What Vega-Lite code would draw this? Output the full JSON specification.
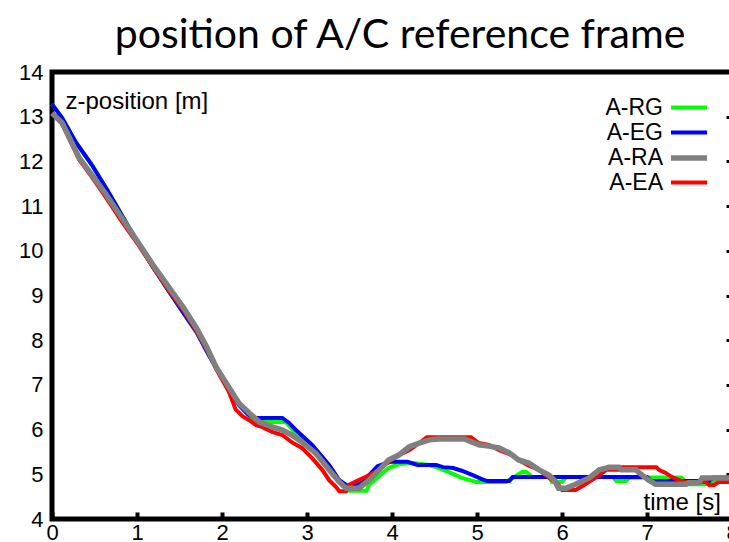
{
  "$schema": "https://vega.github.io/schema/vega-lite/v6.json",
  "width": 680,
  "height": 447,
  "autosize": {"type": "none"},
  "padding": {"left": 52, "top": 72, "right": 0, "bottom": 23},
  "background": "white",
  "title": {"text": "position of A/C reference frame", "font": "Lato", "fontSize": 41, "fontWeight": "normal", "color": "black", "anchor": "middle", "baseline": "alphabetic", "offset": 14, "dy": 42, "dx": 8},
  "config": {
    "view": {"stroke": "black", "strokeWidth": 5},
    "axis": {"grid": false, "domain": false, "labelFont": "Liberation Sans", "labelFontSize": 22, "labelColor": "black", "labelFlush": false, "labelOverlap": false, "titleFont": "Liberation Sans", "titleFontSize": 24, "titleFontWeight": "normal", "titleColor": "black"}
  },
  "data": {"values": [
    {"series": "A-RG", "t": 0, "z": 13.28}, {"series": "A-RG", "t": 0.12, "z": 12.97}, {"series": "A-RG", "t": 0.28, "z": 12.43}, {"series": "A-RG", "t": 0.47, "z": 11.92}, {"series": "A-RG", "t": 0.65, "z": 11.36}, {"series": "A-RG", "t": 0.87, "z": 10.64}, {"series": "A-RG", "t": 1.02, "z": 10.15}, {"series": "A-RG", "t": 1.2, "z": 9.6}, {"series": "A-RG", "t": 1.38, "z": 9.08}, {"series": "A-RG", "t": 1.55, "z": 8.6}, {"series": "A-RG", "t": 1.7, "z": 8.18}, {"series": "A-RG", "t": 1.85, "z": 7.65}, {"series": "A-RG", "t": 2.0, "z": 7.15}, {"series": "A-RG", "t": 2.2, "z": 6.55}, {"series": "A-RG", "t": 2.3, "z": 6.35}, {"series": "A-RG", "t": 2.38, "z": 6.17}, {"series": "A-RG", "t": 2.75, "z": 6.17}, {"series": "A-RG", "t": 2.85, "z": 5.95}, {"series": "A-RG", "t": 3.02, "z": 5.61}, {"series": "A-RG", "t": 3.2, "z": 5.25}, {"series": "A-RG", "t": 3.35, "z": 4.9}, {"series": "A-RG", "t": 3.5, "z": 4.63}, {"series": "A-RG", "t": 3.7, "z": 4.63}, {"series": "A-RG", "t": 3.73, "z": 4.76}, {"series": "A-RG", "t": 3.85, "z": 4.96}, {"series": "A-RG", "t": 3.96, "z": 5.14}, {"series": "A-RG", "t": 4.08, "z": 5.23}, {"series": "A-RG", "t": 4.24, "z": 5.25}, {"series": "A-RG", "t": 4.44, "z": 5.21}, {"series": "A-RG", "t": 4.55, "z": 5.14}, {"series": "A-RG", "t": 4.67, "z": 5.05}, {"series": "A-RG", "t": 4.82, "z": 4.92}, {"series": "A-RG", "t": 4.99, "z": 4.83}, {"series": "A-RG", "t": 5.34, "z": 4.83}, {"series": "A-RG", "t": 5.44, "z": 4.94}, {"series": "A-RG", "t": 5.53, "z": 5.05}, {"series": "A-RG", "t": 5.58, "z": 5.05}, {"series": "A-RG", "t": 5.65, "z": 4.94}, {"series": "A-RG", "t": 5.85, "z": 4.94}, {"series": "A-RG", "t": 5.88, "z": 4.83}, {"series": "A-RG", "t": 6.0, "z": 4.83}, {"series": "A-RG", "t": 6.05, "z": 4.94}, {"series": "A-RG", "t": 6.6, "z": 4.94}, {"series": "A-RG", "t": 6.64, "z": 4.85}, {"series": "A-RG", "t": 6.75, "z": 4.85}, {"series": "A-RG", "t": 6.8, "z": 4.93}, {"series": "A-RG", "t": 7.4, "z": 4.93}, {"series": "A-RG", "t": 7.49, "z": 4.78}, {"series": "A-RG", "t": 7.69, "z": 4.78}, {"series": "A-RG", "t": 7.73, "z": 4.84}, {"series": "A-RG", "t": 7.88, "z": 4.84}, {"series": "A-RG", "t": 7.92, "z": 4.9}, {"series": "A-RG", "t": 8.0, "z": 4.9},

    {"series": "A-EG", "t": 0, "z": 13.28}, {"series": "A-EG", "t": 0.12, "z": 12.97}, {"series": "A-EG", "t": 0.28, "z": 12.43}, {"series": "A-EG", "t": 0.47, "z": 11.92}, {"series": "A-EG", "t": 0.65, "z": 11.36}, {"series": "A-EG", "t": 0.87, "z": 10.64}, {"series": "A-EG", "t": 1.02, "z": 10.15}, {"series": "A-EG", "t": 1.2, "z": 9.6}, {"series": "A-EG", "t": 1.38, "z": 9.08}, {"series": "A-EG", "t": 1.55, "z": 8.6}, {"series": "A-EG", "t": 1.7, "z": 8.18}, {"series": "A-EG", "t": 1.85, "z": 7.65}, {"series": "A-EG", "t": 2.0, "z": 7.15}, {"series": "A-EG", "t": 2.2, "z": 6.55}, {"series": "A-EG", "t": 2.3, "z": 6.35}, {"series": "A-EG", "t": 2.38, "z": 6.26}, {"series": "A-EG", "t": 2.71, "z": 6.26}, {"series": "A-EG", "t": 2.79, "z": 6.15}, {"series": "A-EG", "t": 2.87, "z": 5.99}, {"series": "A-EG", "t": 3.06, "z": 5.66}, {"series": "A-EG", "t": 3.26, "z": 5.21}, {"series": "A-EG", "t": 3.38, "z": 4.87}, {"series": "A-EG", "t": 3.47, "z": 4.75}, {"series": "A-EG", "t": 3.57, "z": 4.75}, {"series": "A-EG", "t": 3.65, "z": 4.85}, {"series": "A-EG", "t": 3.75, "z": 5.02}, {"series": "A-EG", "t": 3.83, "z": 5.18}, {"series": "A-EG", "t": 3.98, "z": 5.28}, {"series": "A-EG", "t": 4.18, "z": 5.28}, {"series": "A-EG", "t": 4.3, "z": 5.21}, {"series": "A-EG", "t": 4.52, "z": 5.21}, {"series": "A-EG", "t": 4.6, "z": 5.16}, {"series": "A-EG", "t": 4.72, "z": 5.14}, {"series": "A-EG", "t": 4.82, "z": 5.08}, {"series": "A-EG", "t": 4.95, "z": 4.98}, {"series": "A-EG", "t": 5.05, "z": 4.9}, {"series": "A-EG", "t": 5.12, "z": 4.85}, {"series": "A-EG", "t": 5.38, "z": 4.85}, {"series": "A-EG", "t": 5.42, "z": 4.94}, {"series": "A-EG", "t": 7.0, "z": 4.94}, {"series": "A-EG", "t": 7.05, "z": 4.85}, {"series": "A-EG", "t": 7.73, "z": 4.85}, {"series": "A-EG", "t": 7.78, "z": 4.93}, {"series": "A-EG", "t": 8.0, "z": 4.93},

    {"series": "A-EA", "t": 0, "z": 13.08}, {"series": "A-EA", "t": 0.12, "z": 12.84}, {"series": "A-EA", "t": 0.32, "z": 12.04}, {"series": "A-EA", "t": 0.47, "z": 11.65}, {"series": "A-EA", "t": 0.64, "z": 11.18}, {"series": "A-EA", "t": 0.82, "z": 10.66}, {"series": "A-EA", "t": 1.02, "z": 10.12}, {"series": "A-EA", "t": 1.2, "z": 9.6}, {"series": "A-EA", "t": 1.38, "z": 9.1}, {"series": "A-EA", "t": 1.55, "z": 8.66}, {"series": "A-EA", "t": 1.7, "z": 8.2}, {"series": "A-EA", "t": 1.82, "z": 7.8}, {"series": "A-EA", "t": 1.93, "z": 7.36}, {"series": "A-EA", "t": 2.08, "z": 6.85}, {"series": "A-EA", "t": 2.16, "z": 6.45}, {"series": "A-EA", "t": 2.24, "z": 6.3}, {"series": "A-EA", "t": 2.32, "z": 6.21}, {"series": "A-EA", "t": 2.4, "z": 6.1}, {"series": "A-EA", "t": 2.47, "z": 6.06}, {"series": "A-EA", "t": 2.59, "z": 5.95}, {"series": "A-EA", "t": 2.71, "z": 5.88}, {"series": "A-EA", "t": 2.82, "z": 5.72}, {"series": "A-EA", "t": 2.94, "z": 5.59}, {"series": "A-EA", "t": 3.06, "z": 5.36}, {"series": "A-EA", "t": 3.18, "z": 5.1}, {"series": "A-EA", "t": 3.26, "z": 4.87}, {"series": "A-EA", "t": 3.34, "z": 4.72}, {"series": "A-EA", "t": 3.38, "z": 4.62}, {"series": "A-EA", "t": 3.46, "z": 4.62}, {"series": "A-EA", "t": 3.49, "z": 4.76}, {"series": "A-EA", "t": 3.61, "z": 4.87}, {"series": "A-EA", "t": 3.73, "z": 4.98}, {"series": "A-EA", "t": 3.85, "z": 5.1}, {"series": "A-EA", "t": 3.96, "z": 5.28}, {"series": "A-EA", "t": 4.08, "z": 5.43}, {"series": "A-EA", "t": 4.2, "z": 5.54}, {"series": "A-EA", "t": 4.32, "z": 5.7}, {"series": "A-EA", "t": 4.41, "z": 5.83}, {"series": "A-EA", "t": 4.93, "z": 5.83}, {"series": "A-EA", "t": 5.02, "z": 5.7}, {"series": "A-EA", "t": 5.14, "z": 5.66}, {"series": "A-EA", "t": 5.26, "z": 5.54}, {"series": "A-EA", "t": 5.41, "z": 5.43}, {"series": "A-EA", "t": 5.49, "z": 5.32}, {"series": "A-EA", "t": 5.61, "z": 5.19}, {"series": "A-EA", "t": 5.73, "z": 5.1}, {"series": "A-EA", "t": 5.85, "z": 4.92}, {"series": "A-EA", "t": 5.94, "z": 4.81}, {"series": "A-EA", "t": 6.0, "z": 4.65}, {"series": "A-EA", "t": 6.16, "z": 4.65}, {"series": "A-EA", "t": 6.26, "z": 4.76}, {"series": "A-EA", "t": 6.44, "z": 4.98}, {"series": "A-EA", "t": 6.52, "z": 5.1}, {"series": "A-EA", "t": 6.67, "z": 5.1}, {"series": "A-EA", "t": 6.7, "z": 5.16}, {"series": "A-EA", "t": 7.11, "z": 5.16}, {"series": "A-EA", "t": 7.14, "z": 5.1}, {"series": "A-EA", "t": 7.22, "z": 5.03}, {"series": "A-EA", "t": 7.29, "z": 4.94}, {"series": "A-EA", "t": 7.38, "z": 4.87}, {"series": "A-EA", "t": 7.44, "z": 4.83}, {"series": "A-EA", "t": 7.69, "z": 4.83}, {"series": "A-EA", "t": 7.73, "z": 4.76}, {"series": "A-EA", "t": 7.79, "z": 4.76}, {"series": "A-EA", "t": 7.85, "z": 4.83}, {"series": "A-EA", "t": 8.0, "z": 4.83},

    {"series": "A-RA", "t": 0, "z": 13.08}, {"series": "A-RA", "t": 0.12, "z": 12.86}, {"series": "A-RA", "t": 0.32, "z": 12.08}, {"series": "A-RA", "t": 0.47, "z": 11.7}, {"series": "A-RA", "t": 0.64, "z": 11.25}, {"series": "A-RA", "t": 0.82, "z": 10.74}, {"series": "A-RA", "t": 1.02, "z": 10.17}, {"series": "A-RA", "t": 1.2, "z": 9.65}, {"series": "A-RA", "t": 1.38, "z": 9.17}, {"series": "A-RA", "t": 1.55, "z": 8.72}, {"series": "A-RA", "t": 1.7, "z": 8.27}, {"series": "A-RA", "t": 1.82, "z": 7.85}, {"series": "A-RA", "t": 1.93, "z": 7.4}, {"series": "A-RA", "t": 2.08, "z": 6.95}, {"series": "A-RA", "t": 2.2, "z": 6.59}, {"series": "A-RA", "t": 2.32, "z": 6.37}, {"series": "A-RA", "t": 2.44, "z": 6.17}, {"series": "A-RA", "t": 2.59, "z": 6.06}, {"series": "A-RA", "t": 2.71, "z": 5.99}, {"series": "A-RA", "t": 2.82, "z": 5.88}, {"series": "A-RA", "t": 2.94, "z": 5.72}, {"series": "A-RA", "t": 3.1, "z": 5.48}, {"series": "A-RA", "t": 3.26, "z": 5.1}, {"series": "A-RA", "t": 3.38, "z": 4.83}, {"series": "A-RA", "t": 3.46, "z": 4.69}, {"series": "A-RA", "t": 3.61, "z": 4.69}, {"series": "A-RA", "t": 3.73, "z": 4.87}, {"series": "A-RA", "t": 3.85, "z": 5.1}, {"series": "A-RA", "t": 3.96, "z": 5.32}, {"series": "A-RA", "t": 4.08, "z": 5.43}, {"series": "A-RA", "t": 4.2, "z": 5.61}, {"series": "A-RA", "t": 4.32, "z": 5.7}, {"series": "A-RA", "t": 4.44, "z": 5.77}, {"series": "A-RA", "t": 4.55, "z": 5.79}, {"series": "A-RA", "t": 4.85, "z": 5.79}, {"series": "A-RA", "t": 5.02, "z": 5.66}, {"series": "A-RA", "t": 5.14, "z": 5.63}, {"series": "A-RA", "t": 5.26, "z": 5.59}, {"series": "A-RA", "t": 5.38, "z": 5.48}, {"series": "A-RA", "t": 5.49, "z": 5.32}, {"series": "A-RA", "t": 5.61, "z": 5.25}, {"series": "A-RA", "t": 5.73, "z": 5.1}, {"series": "A-RA", "t": 5.85, "z": 4.98}, {"series": "A-RA", "t": 5.91, "z": 4.87}, {"series": "A-RA", "t": 5.96, "z": 4.69}, {"series": "A-RA", "t": 6.05, "z": 4.69}, {"series": "A-RA", "t": 6.14, "z": 4.76}, {"series": "A-RA", "t": 6.32, "z": 4.92}, {"series": "A-RA", "t": 6.44, "z": 5.1}, {"series": "A-RA", "t": 6.52, "z": 5.14}, {"series": "A-RA", "t": 6.55, "z": 5.16}, {"series": "A-RA", "t": 6.67, "z": 5.16}, {"series": "A-RA", "t": 6.7, "z": 5.1}, {"series": "A-RA", "t": 6.87, "z": 5.1}, {"series": "A-RA", "t": 6.91, "z": 5.03}, {"series": "A-RA", "t": 7.02, "z": 4.87}, {"series": "A-RA", "t": 7.1, "z": 4.78}, {"series": "A-RA", "t": 7.46, "z": 4.78}, {"series": "A-RA", "t": 7.49, "z": 4.81}, {"series": "A-RA", "t": 7.61, "z": 4.81}, {"series": "A-RA", "t": 7.65, "z": 4.92}, {"series": "A-RA", "t": 8.0, "z": 4.92}
  ]},
  "layer": [
    {
      "mark": {"type": "line", "interpolate": "linear", "strokeJoin": "miter"},
      "encoding": {
        "x": {"field": "t", "type": "quantitative", "scale": {"domain": [0, 8], "nice": false, "zero": false},
          "axis": {"orient": "bottom", "values": [0, 1, 2, 3, 4, 5, 6, 7, 8], "ticks": true, "tickSize": -7, "tickWidth": 4, "tickColor": "black", "labelPadding": 10, "labelBaseline": "top",
            "title": "time [s]", "titleX": 591, "titleY": -10, "titleAlign": "left", "titleBaseline": "alphabetic", "titleAngle": 0}},
        "y": {"field": "z", "type": "quantitative", "scale": {"domain": [4, 14], "nice": false, "zero": false},
          "axis": {"orient": "left", "values": [4, 5, 6, 7, 8, 9, 10, 11, 12, 13, 14], "ticks": false, "labelPadding": 9,
            "title": "z-position [m]", "titleAngle": 0, "titleX": 13, "titleY": 36, "titleAlign": "left", "titleBaseline": "alphabetic"}},
        "color": {"field": "series", "type": "nominal", "scale": {"domain": ["A-RG", "A-EG", "A-RA", "A-EA"], "range": ["#00ff00", "#0000ff", "#808080", "#ff0000"]},
          "legend": {"orient": "none", "legendX": 625, "legendY": 24, "title": null, "padding": 0, "symbolType": "M-2,0H2", "symbolSize": 324, "labelFont": "Liberation Sans", "labelFontSize": 23, "labelColor": "black", "labelAlign": "right", "labelOffset": -38, "rowPadding": 1}},
        "strokeWidth": {"field": "series", "type": "nominal", "scale": {"type": "ordinal", "domain": ["A-RG", "A-EG", "A-RA", "A-EA"], "range": [4, 4, 5.5, 4]}}
      }
    },
    {
      "mark": {"type": "point", "opacity": 0},
      "encoding": {
        "y": {"field": "z", "type": "quantitative", "scale": {"domain": [4, 14], "nice": false, "zero": false},
          "axis": {"orient": "right", "values": [4, 5, 6, 7, 8, 9, 10, 11, 12, 13, 14], "ticks": true, "tickSize": -6, "tickWidth": 3, "tickColor": "black", "labels": false, "title": null}}
      }
    }
  ],
  "resolve": {"axis": {"y": "independent"}}
}
